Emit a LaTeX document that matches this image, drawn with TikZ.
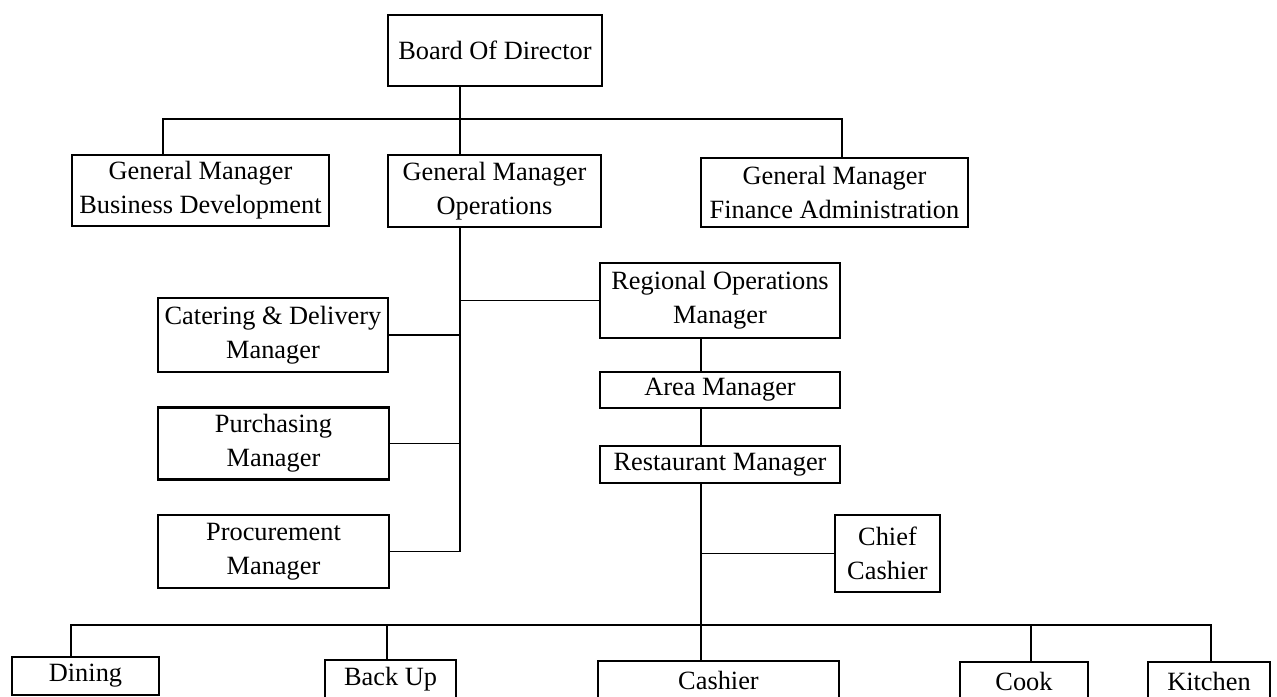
\documentclass[tikz,border=0pt]{standalone}
\usepackage{fontspec}
\setmainfont{Liberation Serif}
\usetikzlibrary{positioning}
\definecolor{black}{gray}{0}

\begin{document}
\begin{tikzpicture}[
x=1cm, y=1cm,
font=\fontsize{15}{19.5}\selectfont,
box/.style={draw=black, line width=1.5pt, align=center, inner sep=2pt},
line/.style={draw=black, line width=0.75pt}
]
\useasboundingbox (0,0) rectangle (25.54,-13.94);
\clip (0,0) rectangle (25.54,-13.94);

% Leitung
\node[box, minimum width=4.28cm, minimum height=1.42cm] (board) at (9.9,-1.01) {Board Of Director};

% General Manager
\node[box, minimum width=5.14cm, minimum height=1.42cm] (gmbd) at (4.01,-3.81) {General Manager\\Business Development};
\node[box, minimum width=4.26cm, minimum height=1.44cm] (gmops) at (9.89,-3.82) {General Manager\\Operations};
\node[box, minimum width=5.34cm, minimum height=1.38cm] (gmfa) at (16.69,-3.85) {General Manager\\Finance Administration};

% linke Seite
\node[box, minimum width=4.6cm, minimum height=1.48cm] (cater) at (5.46,-6.7) {Catering \& Delivery\\Manager};
\node[box, minimum width=4.62cm, minimum height=1.44cm] (purch) at (5.47,-8.87) {Purchasing\\Manager};
\node[box, minimum width=4.62cm, minimum height=1.46cm] (proc) at (5.47,-11.03) {Procurement\\Manager};

% rechte Seite
\node[box, minimum width=4.8cm, minimum height=1.5cm] (regops) at (14.4,-6.01) {Regional Operations\\Manager};
\node[box, minimum width=4.8cm, minimum height=0.72cm] (area) at (14.4,-7.8) {Area Manager};
\node[box, minimum width=4.8cm, minimum height=0.74cm] (rest) at (14.4,-9.29) {Restaurant Manager};
\node[box, minimum width=2.1cm, minimum height=1.54cm] (chief) at (17.75,-11.07) {Chief\\Cashier};

% unterste Ebene
\node[box, minimum width=2.94cm, minimum height=0.76cm] (dining) at (1.71,-13.52) {Dining};
\node[box, minimum width=2.62cm, minimum height=0.76cm] (backup) at (7.81,-13.58) {Back Up};
\node[box, minimum width=4.82cm, minimum height=0.76cm] (cashier) at (14.37,-13.6) {Cashier};
\node[box, minimum width=2.56cm, minimum height=0.76cm] (cook) at (20.48,-13.62) {Cook};
\node[box, minimum width=2.44cm, minimum height=0.76cm] (kitchen) at (24.18,-13.62) {Kitchen};

% Hilfspunkte
\coordinate (topbus) at (0,-2.38);
\coordinate (botbus) at (0,-12.5);
\coordinate (lspine) at (9.2,0);
\coordinate (bdx) at (3.26,0);
\coordinate (fax) at (16.84,0);
\coordinate (rspine) at (14.02,0);
\coordinate (dinx) at (1.42,0);
\coordinate (bupx) at (7.74,0);
\coordinate (cookx) at (20.62,0);
\coordinate (kitx) at (24.22,0);

% Verbindungen oben
\draw[line] (lspine |- board.south) -- (lspine |- gmops.north);
\draw[line] (bdx |- gmbd.north) -- (bdx |- topbus) -- (fax |- topbus) -- (fax |- gmfa.north);

% Operations-Zweig
\draw[line] (lspine |- gmops.south) -- (lspine |- proc.east);
\foreach \n in {cater,purch,proc}
\draw[line] (\n.east) -- (\n.east -| lspine);
\draw[line] (regops.west) -- (regops.west -| lspine);

% Restaurant-Zweig
\draw[line] (rspine |- regops.south) -- (rspine |- area.north);
\draw[line] (rspine |- area.south) -- (rspine |- rest.north);
\draw[line] (rspine |- rest.south) -- (rspine |- cashier.north);
\draw[line] (chief.west) -- (chief.west -| rspine);

% unterste Ebene
\draw[line] (dinx |- dining.north) -- (dinx |- botbus) -- (kitx |- botbus) -- (kitx |- kitchen.north);
\foreach \n/\c in {backup/bupx, cook/cookx}
\draw[line] (\c |- \n.north) -- (\c |- botbus);
\end{tikzpicture}
\end{document}
